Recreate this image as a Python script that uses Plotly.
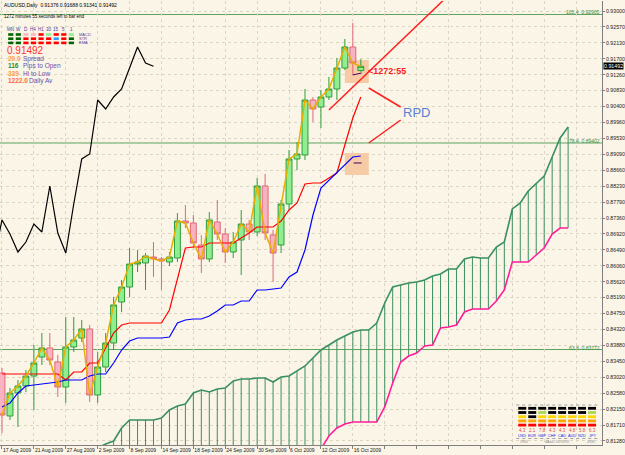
import plotly.graph_objects as go

# ---------------- data ----------------
date_bars = [0, 4, 8, 12, 16, 20, 24, 28, 32, 36, 40, 44]
date_labels = ["17 Aug 2009", "21 Aug 2009", "27 Aug 2009", "2 Sep 2009", "8 Sep 2009",
               "14 Sep 2009", "18 Sep 2009", "24 Sep 2009", "30 Sep 2009", "6 Oct 2009",
               "12 Oct 2009", "16 Oct 2009"]
future_grid_bars = [48, 52, 56, 60, 64, 68, 72]

bars = list(range(46))
opens = [0.83132, 0.81960, 0.82587, 0.82778, 0.83050, 0.83568, 0.83814, 0.83432, 0.82750, 0.83841,
         0.84086, 0.84332, 0.82532, 0.83296, 0.83950, 0.85068, 0.85476, 0.86103, 0.86131, 0.86294,
         0.86240, 0.86158, 0.86267, 0.87276, 0.87221, 0.86621, 0.86240, 0.87248, 0.86921, 0.86431,
         0.86758, 0.87194, 0.86976, 0.88230, 0.86894, 0.86621, 0.87739, 0.88966, 0.89075, 0.90574,
         0.90383, 0.90656, 0.90874, 0.91446, 0.92019, 0.91376]
highs = [0.83268, 0.82723, 0.82941, 0.83214, 0.83895, 0.84222, 0.84222, 0.83623, 0.84659, 0.84659,
         0.84577, 0.84441, 0.83705, 0.84222, 0.85204, 0.85667, 0.86540, 0.86485, 0.86403, 0.86703,
         0.86294, 0.86431, 0.87494, 0.87712, 0.87439, 0.86894, 0.87521, 0.87848, 0.87085, 0.86976,
         0.87575, 0.87303, 0.88448, 0.88557, 0.87030, 0.87848, 0.89211, 0.89429, 0.90874, 0.90656,
         0.90847, 0.91201, 0.91719, 0.92237, 0.92673, 0.91688]
lows = [0.81496, 0.81851, 0.81660, 0.82614, 0.82123, 0.83350, 0.83350, 0.82478, 0.82314, 0.83705,
        0.83977, 0.82342, 0.82314, 0.83159, 0.83759, 0.84795, 0.85204, 0.85885, 0.85395, 0.85749,
        0.85395, 0.86049, 0.86158, 0.87085, 0.86540, 0.85858, 0.86158, 0.86758, 0.86131, 0.86267,
        0.85804, 0.86758, 0.86867, 0.86758, 0.85613, 0.86403, 0.87575, 0.88666, 0.88938, 0.89974,
        0.89811, 0.90574, 0.90574, 0.91392, 0.91256, 0.91341]
closes = [0.81987, 0.82587, 0.82778, 0.83050, 0.83405, 0.83814, 0.83486, 0.82750, 0.83841, 0.84032,
          0.84332, 0.82532, 0.83296, 0.83950, 0.84986, 0.85476, 0.86103, 0.86158, 0.86321, 0.86240,
          0.86185, 0.86294, 0.87276, 0.87221, 0.86676, 0.86240, 0.87303, 0.86921, 0.86431, 0.86703,
          0.87194, 0.86976, 0.88230, 0.86948, 0.86403, 0.87739, 0.88966, 0.89102, 0.90574, 0.90329,
          0.90656, 0.90874, 0.91446, 0.92019, 0.91583, 0.91492]

tenkan = [0.83105, 0.83105, 0.83105, 0.83105, 0.83105, 0.83105, 0.83105, 0.83105, 0.82941, 0.83159,
          0.83159, 0.83405, 0.83405, 0.83814, 0.84222, 0.84441, 0.84495, 0.84495, 0.84495, 0.84495,
          0.84495, 0.84849, 0.85667, 0.86540, 0.86567, 0.86567, 0.86676, 0.86676, 0.86676, 0.86676,
          0.86812, 0.86948, 0.87112, 0.87112, 0.87112, 0.87276, 0.87575, 0.87766, 0.88284, 0.88311,
          0.88311, 0.88448, 0.88584, 0.89347, 0.90083, 0.90656]
kijun = [0.82205, 0.82314, 0.82587, 0.82778, 0.82805, 0.82832, 0.82859, 0.82887, 0.82941, 0.82941,
         0.82941, 0.83050, 0.83105, 0.83105, 0.83405, 0.83759, 0.84004, 0.84086, 0.84086, 0.84086,
         0.84086, 0.84113, 0.84495, 0.84577, 0.84604, 0.84604, 0.84686, 0.84822, 0.84986, 0.84986,
         0.85095, 0.85095, 0.85395, 0.85395, 0.85422, 0.85449, 0.85749, 0.85885, 0.86485, 0.87439,
         0.88175, 0.88393, 0.88584, 0.88829, 0.89020, 0.89047]

cloud_bars = list(range(12, 72))
span_a = [0.81088, 0.81197, 0.81278, 0.81633, 0.81851, 0.81851, 0.81851, 0.81851, 0.81905, 0.82123,
          0.82232, 0.82287, 0.82587, 0.82669, 0.82614, 0.82696, 0.82723, 0.82914, 0.82968, 0.82968,
          0.82996, 0.82996, 0.82887, 0.83023, 0.83050, 0.83187, 0.83323, 0.83541, 0.83759, 0.83895,
          0.84032, 0.84141, 0.84250, 0.84304, 0.84304, 0.84495, 0.85040, 0.85476, 0.85531, 0.85585,
          0.85613, 0.85667, 0.85776, 0.85831, 0.85967, 0.85967, 0.86240, 0.86294, 0.86267, 0.86267,
          0.86567, 0.86703, 0.87603, 0.87766, 0.88093, 0.88311, 0.88502, 0.89020, 0.89538, 0.89838]
span_b = [0.80800] * 28 + [
          0.81060, 0.81415, 0.81633, 0.81742, 0.81796, 0.81796, 0.81796, 0.81796, 0.82205, 0.82859,
          0.83432, 0.83595, 0.83677, 0.83868, 0.83895, 0.84359, 0.84386, 0.84441, 0.84795, 0.84877,
          0.84877, 0.84877, 0.85095, 0.85395, 0.86158, 0.86158, 0.86158, 0.86349, 0.86540, 0.86921,
          0.87085, 0.87085]
chikou_shift = 26

price_ticks = [0.81280, 0.81714, 0.82148, 0.82582, 0.83016, 0.83450, 0.83885, 0.84319, 0.84753, 0.85187,
               0.85621, 0.86055, 0.86489, 0.86923, 0.87357, 0.87792, 0.88226, 0.88660, 0.89094, 0.89528,
               0.89962, 0.90396, 0.90830, 0.91264, 0.91698, 0.92133, 0.92567, 0.93000]
price_labels = ["0.81280", "0.81710", "0.82150", "0.82580", "0.83020", "0.83450", "0.83880", "0.84320",
                "0.84750", "0.85190", "0.85620", "0.86060", "0.86490", "0.86920", "0.87360", "0.87790",
                "0.88230", "0.88660", "0.89090", "0.89530", "0.89960", "0.90400", "0.90830", "0.91260",
                "0.91700", "0.92130", "0.92570", "0.93000"]

fib_levels = [0.92905, 0.89402, 0.83772]
fib_names = ["105.4", "78.4", "63.8"]

current_price = 0.91492
title_text = "AUDUSD,Daily  0.91376 0.91688 0.91341 0.91492"
timer_text = "1272 minutes 55 seconds left to bar end"

tf_labels = ["MN", "W", "D", "H4", "H1", "30", "15", "5", "1"]
ind_names = ["MACD", "STR", "EMA"]
ind_colors = [
    ["#006400", "#006400", "#FFB6C1", "#FFB6C1", "#FF0000", "#90EE90", "#FF0000", "#FF0000", "#90EE90"],
    ["#006400", "#006400", "#FF0000", "#FF0000", "#FF0000", "#FF0000", "#3399FF", "#FF0000", "#006400"],
    ["#006400", "#006400", "#FF0000", "#FF0000", "#FF0000", "#FF0000", "#FF0000", "#FF0000", "#006400"],
]
info_rows = [("20.0", "#FFA040", "Spread"), ("116", "#2E8B2E", "Pips to Open"),
             ("339", "#FFA040", "Hi to Low"), ("1222.0", "#FF6A3A", "Daily Av")]
info_label_x = [22, 22, 22, 28]

cur_names = ["USD", "EUR", "GBP", "CHF", "CAD", "AUD", "NZD", "JPY"]
cur_values = ["4.3", "2.1", "7.8", "4.3", "4.3", "4.8", "5.8", "6.3"]
cur_rows = [
    ["#000000"] * 8,
    ["#000000", "#000000", "#A8D850", "#000000", "#000000", "#000000", "#000000", "#A8D850"],
    ["#FFD700", "#000000", "#FFD700", "#FFD700", "#FFD700", "#FFD700", "#FFD700", "#FFD700"],
    ["#FFA500"] * 8,
    ["#FF0000"] * 8,
]

# ---------------- geometry helpers (layout only) ----------------
W, H = 625, 455
ML, MR, MT, MB = 0, 21, 1, 10
PW, PH = W - ML - MR, H - MT - MB
X_RANGE = [-0.25, 75.25]
Y_RANGE = [0.811692, 0.932726]


def fx(px):
    return (px - ML) / PW


def fy(py):
    return 1 - (py - MT) / PH


BG = "#FAF5E6"
GRID = "#DCD5C4"
FONT = "Liberation Sans"

fig = go.Figure()

# Ichimoku cloud hatching
hx, hy = [], []
for k, a, b in zip(cloud_bars, span_a, span_b):
    hx += [k, k, None]
    hy += [a, b, None]
fig.add_trace(go.Scatter(x=hx, y=hy, mode="lines", line=dict(color="#3A9060", width=1)))
fig.add_trace(go.Scatter(x=cloud_bars, y=span_a, mode="lines", line=dict(color="#3A9060", width=1.6)))
fig.add_trace(go.Scatter(x=cloud_bars, y=span_b, mode="lines", line=dict(color="#FF1E9A", width=1.6)))

# Tenkan / Kijun
fig.add_trace(go.Scatter(x=bars, y=tenkan, mode="lines", line=dict(color="#FF0000", width=1.2)))
fig.add_trace(go.Scatter(x=bars, y=kijun, mode="lines", line=dict(color="#0000FF", width=1.2)))

# Chikou (close shifted back)
chx = [b - chikou_shift for b in bars if b - chikou_shift >= -1]
chy = [c for b, c in zip(bars, closes) if b - chikou_shift >= -1]
fig.add_trace(go.Scatter(x=chx, y=chy, mode="lines", line=dict(color="#000000", width=1.2)))

# Candles
fig.add_trace(go.Candlestick(
    x=bars, open=opens, high=highs, low=lows, close=closes,
    increasing=dict(line=dict(color="#2E9E3A", width=1), fillcolor="#90EE90"),
    decreasing=dict(line=dict(color="#E06878", width=1), fillcolor="#F7B3C0"),
    whiskerwidth=0,
))

# close line
fig.add_trace(go.Scatter(x=bars, y=closes, mode="lines", line=dict(color="#E8AE00", width=1.5)))

shapes = []
for lv in fib_levels:
    shapes.append(dict(type="line", xref="paper", yref="y", x0=0, x1=1, y0=lv, y1=lv,
                       line=dict(color="#5FA35F", width=1), layer="between"))
# RPD objects
shapes += [
    dict(type="rect", xref="x", yref="y", x0=43.0, x1=46.0, y0=0.91037, y1=0.91664,
         fillcolor="#F7CBA5", line=dict(width=0), layer="between"),
    dict(type="rect", xref="x", yref="y", x0=43.0, x1=46.0, y0=0.88530, y1=0.89129,
         fillcolor="#F7CBA5", line=dict(width=0), layer="between"),
    dict(type="line", xref="x", yref="y", x0=41.0, y0=0.90301, x1=57.0, y1=0.93636,
         line=dict(color="#FF2020", width=1.5)),
    dict(type="line", xref="x", yref="y", x0=46.0, y0=0.90901, x1=50.0, y1=0.90383,
         line=dict(color="#FF2020", width=1.5)),
    dict(type="line", xref="x", yref="y", x0=46.0, y0=0.89402, x1=50.0, y1=0.90029,
         line=dict(color="#FF2020", width=1.5)),
    dict(type="line", xref="x", yref="y", x0=44.0, y0=0.91256, x1=45.1, y1=0.91310,
         line=dict(color="#400060", width=1)),
    dict(type="line", xref="x", yref="y", x0=44.1, y0=0.88857, x1=45.1, y1=0.88857,
         line=dict(color="#400060", width=1)),
]

annotations = []


def txt(x, y, s, size, color, xanchor="left", bold=False, **kw):
    d = dict(x=x, y=y, xref="paper", yref="paper", text=("<b>%s</b>" % s) if bold else s,
             showarrow=False, xanchor=xanchor, yanchor="middle", borderpad=0,
             font=dict(family=FONT, size=size, color=color))
    d.update(kw)
    annotations.append(d)


# fib labels
for lv, nm in zip(fib_levels, fib_names):
    annotations.append(dict(x=0.998, y=lv, xref="paper", yref="y", text="%s  %.5f" % (nm, lv),
                            showarrow=False, xanchor="right", yanchor="bottom", yshift=-2, borderpad=0,
                            font=dict(family=FONT, size=5, color="#3C8C3C")))

txt(fx(3), fy(5), title_text, 5, "#000000")
txt(fx(3), fy(16.5), timer_text, 4.5, "#000000")
for i, t in enumerate(tf_labels):
    txt(fx(10.8 + 7.6 * i), fy(29.5), t, 4.5, "#4A3CA0", xanchor="center")
for r, row in enumerate(ind_colors):
    yy = 34.5 + 4.2 * r
    for i, c in enumerate(row):
        cx = 10.8 + 7.6 * i
        shapes.append(dict(type="rect", xref="paper", yref="paper", x0=fx(cx - 2.6), x1=fx(cx + 2.6),
                           y0=fy(yy + 1.3), y1=fy(yy - 1.3), fillcolor=c, line=dict(width=0)))
    txt(fx(78), fy(yy), ind_names[r], 4, "#5A3CA0")
txt(fx(6), fy(50.5), "%.5f" % current_price, 10, "#FF3030")
for i, (num, col, lab) in enumerate(info_rows):
    yy = 58.6 + 7.4 * i
    txt(fx(7), fy(yy), num, 6.5, col, bold=True)
    txt(fx(info_label_x[i]), fy(yy), lab, 6.5, "#6A50A8")

# RPD annotations
annotations.append(dict(x=52.0, y=0.90220, xref="x", yref="y", text="RPD", showarrow=False,
                        font=dict(family=FONT, size=13, color="#5B7FD9")))
annotations.append(dict(x=45.6, y=0.91365, xref="x", yref="y", text="<b>&lt;1272:55</b>",
                        showarrow=False, xanchor="left",
                        font=dict(family=FONT, size=9, color="#FF2020")))

# currency widget
for r, row in enumerate(cur_rows):
    yy = 408.3 + 4.2 * r
    for i, c in enumerate(row):
        x0 = 520 + 10 * i
        shapes.append(dict(type="rect", xref="paper", yref="paper", x0=fx(x0), x1=fx(x0 + 8),
                           y0=fy(yy + 1.4), y1=fy(yy - 1.4), fillcolor=c, line=dict(width=0)))
for i, (v, n) in enumerate(zip(cur_values, cur_names)):
    cx = 524 + 10 * i
    txt(fx(cx), fy(430.5), v, 4.5, "#E04848", xanchor="center")
    txt(fx(cx), fy(435.5), n, 3.8, "#2828E8", xanchor="center")
shapes.append(dict(type="line", xref="paper", yref="paper", x0=fx(518), x1=fx(600), y0=fy(405), y1=fy(405),
                   line=dict(color="#A0A0A0", width=1, dash="dot")))
shapes.append(dict(type="line", xref="paper", yref="paper", x0=fx(518), x1=fx(600), y0=fy(438.5), y1=fy(438.5),
                   line=dict(color="#A0A0A0", width=1, dash="dot")))
txt(fx(521), fy(441.5), "3903", 3.5, "#909090")
txt(fx(559), fy(441.5), "dAdar 10/19/09", 3.5, "#909090", xanchor="center")
txt(fx(598), fy(441.5), "4396", 3.5, "#909090", xanchor="right")

# current price box on axis
annotations.append(dict(x=1.0015, y=current_price, xref="paper", yref="y", text="%.5f" % current_price,
                        showarrow=False, xanchor="left", yanchor="middle", bgcolor="#000000",
                        borderpad=0, font=dict(family=FONT, size=5.3, color="#FFFFFF")))

fig.update_layout(
    width=W, height=H,
    margin=dict(l=ML, r=MR, t=MT, b=MB, pad=0),
    paper_bgcolor=BG, plot_bgcolor=BG,
    showlegend=False, hovermode=False,
    boxgap=0.14, boxgroupgap=0.14,
    font=dict(family=FONT, size=5, color="#202020"),
    shapes=shapes, annotations=annotations,
    xaxis=dict(
        range=X_RANGE, type="linear",
        tickmode="array", tickvals=date_bars + future_grid_bars,
        ticktext=date_labels + [""] * len(future_grid_bars),
        ticklabelposition="outside right", tickangle=0,
        showgrid=True, gridcolor=GRID, griddash="dot", gridwidth=1,
        ticks="outside", ticklen=3, tickcolor="#808080",
        tickfont=dict(family=FONT, size=5, color="#202020"),
        showline=True, linecolor="#808080", linewidth=1,
        zeroline=False, rangeslider=dict(visible=False), fixedrange=True,
    ),
    yaxis=dict(
        range=Y_RANGE, side="right",
        tickmode="array", tickvals=price_ticks, ticktext=price_labels,
        showgrid=True, gridcolor=GRID, griddash="dot", gridwidth=1,
        ticks="outside", ticklen=2, tickcolor="#808080",
        tickfont=dict(family=FONT, size=5.2, color="#202020"),
        showline=True, linecolor="#808080", linewidth=1,
        zeroline=False, fixedrange=True,
    ),
)

fig.write_html("out.html")
